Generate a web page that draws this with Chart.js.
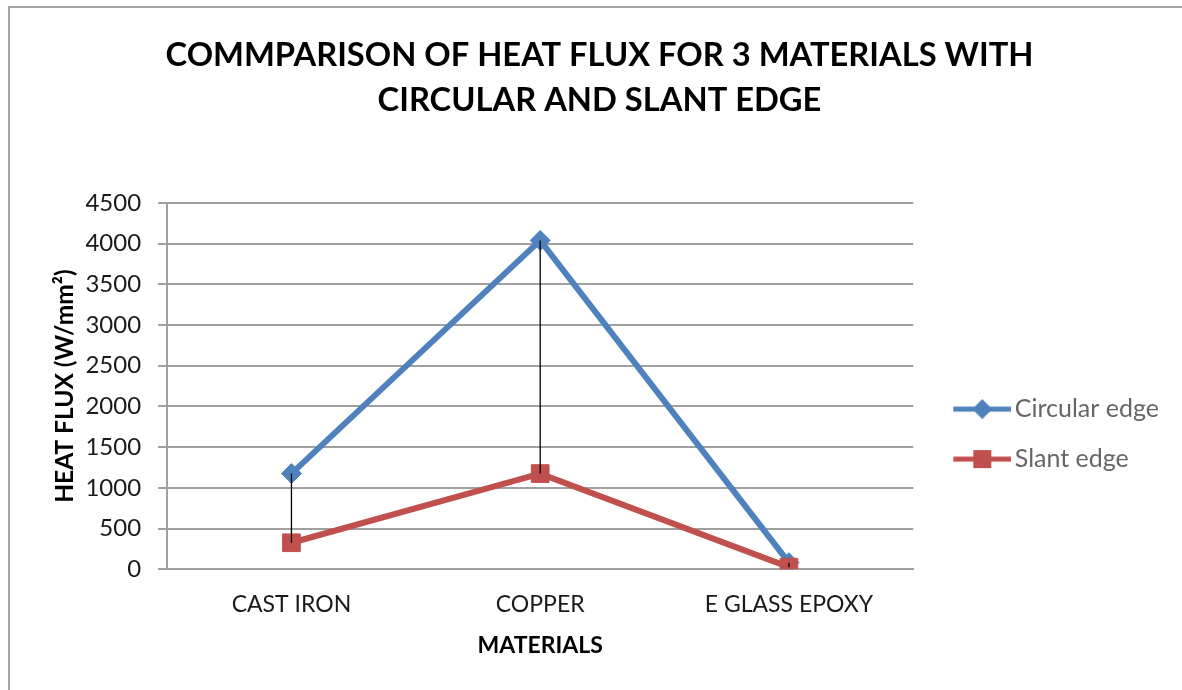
<!DOCTYPE html>
<html lang="en">
<head>
    <meta charset="UTF-8">
    <title>Heat Flux Comparison</title>
    <script src="https://cdn.jsdelivr.net/npm/chart.js"></script>
    <style>
        body { margin: 0; background: #fff; }
        #wrap { position: relative; width: 1182px; height: 690px; overflow: hidden; }
        #frame { position: absolute; left: 8px; top: 6px; width: 1200px; height: 700px;
                 border-left: 2px solid #a6a6a6; border-top: 2px solid #a6a6a6; pointer-events: none; }
    </style>
</head>
<body>
<div id="wrap">
    <canvas id="chart" width="1182" height="690"></canvas>
    <div id="frame"></div>
</div>

<script>
    // data
    const materials = ['CAST IRON', 'COPPER', 'E GLASS EPOXY'];
    const circularEdge = [1175, 4040, 80];
    const slantEdge = [325, 1175, 25];
    const seriesNames = ['Circular edge', 'Slant edge'];
    const titleLines = ['COMMPARISON OF HEAT FLUX FOR 3 MATERIALS WITH', 'CIRCULAR AND SLANT EDGE'];

    const FONT = 'Lato';
    const BLUE = '#4F81BD';
    const RED = '#C0504D';

    // legend symbol: line with the marker in the middle
    function legendIcon(color, shape) {
        const c = document.createElement('canvas');
        c.width = 82;
        c.height = 22;
        const g = c.getContext('2d');
        g.strokeStyle = color;
        g.fillStyle = color;
        g.lineWidth = 5;
        g.beginPath();
        g.moveTo(24, 11);
        g.lineTo(82, 11);
        g.stroke();
        const cx = 53, cy = 11;
        if (shape === 'diamond') {
            g.beginPath();
            g.moveTo(cx, cy - 10);
            g.lineTo(cx + 10, cy);
            g.lineTo(cx, cy + 10);
            g.lineTo(cx - 10, cy);
            g.closePath();
            g.fill();
        } else {
            g.fillRect(cx - 9, cy - 9, 18, 18);
        }
        return c;
    }

    // thin black high-low lines between the two series at each category
    const dropLines = {
        id: 'dropLines',
        afterDatasetsDraw(chart) {
            const ctx = chart.ctx;
            const x = chart.scales.x, y = chart.scales.y;
            ctx.save();
            ctx.strokeStyle = '#000';
            ctx.lineWidth = 1.3;
            materials.forEach((m, i) => {
                const px = x.getPixelForValue(i);
                ctx.beginPath();
                ctx.moveTo(px, y.getPixelForValue(circularEdge[i]));
                ctx.lineTo(px, y.getPixelForValue(slantEdge[i]));
                ctx.stroke();
            });
            ctx.restore();
        }
    };

    new Chart(document.getElementById('chart'), {
        type: 'line',
        data: {
            labels: materials,
            datasets: [{
                label: seriesNames[0],
                data: circularEdge,
                borderColor: BLUE,
                backgroundColor: BLUE,
                borderWidth: 6,
                pointStyle: 'rectRot',
                pointRadius: 10,
                pointBorderWidth: 1,
                tension: 0
            }, {
                label: seriesNames[1],
                data: slantEdge,
                borderColor: RED,
                backgroundColor: RED,
                borderWidth: 6,
                pointStyle: 'rect',
                pointRadius: 12.5,
                pointBorderWidth: 1,
                tension: 0,
                order: -1
            }]
        },
        options: {
            responsive: false,
            animation: false,
            events: [],
            layout: { padding: { left: 30, right: 13, top: 0, bottom: 31 } },
            plugins: {
                title: {
                    display: true,
                    text: titleLines,
                    color: '#000',
                    font: { family: FONT, size: 32.7, weight: 'bold', lineHeight: 1.376 },
                    padding: { top: 32.5, bottom: 80.5 }
                },
                legend: {
                    position: 'right',
                    fullSize: false,
                    title: { display: true, text: '', padding: { top: 72, bottom: 0 }, font: { size: 20 } },
                    labels: {
                        usePointStyle: true,
                        pointStyleWidth: 64,
                        padding: 25,
                        color: '#1a1a1a',
                        font: { family: FONT, size: 25 },
                        generateLabels(chart) {
                            return chart.data.datasets.map((ds, i) => ({
                                text: ds.label,
                                pointStyle: legendIcon(ds.borderColor, i === 0 ? 'diamond' : 'square'),
                                fillStyle: ds.borderColor,
                                strokeStyle: ds.borderColor,
                                lineWidth: 0,
                                datasetIndex: i
                            }));
                        }
                    }
                },
                tooltip: { enabled: false }
            },
            scales: {
                x: {
                    offset: true,
                    grid: { display: false, drawTicks: false },
                    border: { color: '#a0a0a0', width: 2 },
                    ticks: { color: '#1a1a1a', font: { family: FONT, size: 23 }, padding: 22 },
                    title: {
                        display: true,
                        text: 'MATERIALS',
                        color: '#000',
                        font: { family: FONT, size: 23, weight: 'bold' },
                        padding: { top: -9.4, bottom: 0 }
                    }
                },
                y: {
                    min: 0,
                    max: 4500,
                    ticks: {
                        stepSize: 500,
                        color: '#1a1a1a',
                        font: { family: FONT, size: 24 },
                        padding: 17,
                        callback: v => String(v)
                    },
                    grid: { color: '#a0a0a0', lineWidth: 2, tickLength: 9 },
                    border: { color: '#a0a0a0', width: 2 },
                    title: {
                        display: true,
                        text: 'HEAT FLUX (W/mm²)',
                        color: '#000',
                        font: { family: FONT, size: 24.5, weight: 'bold' },
                        padding: { top: 20, bottom: -11 }
                    }
                }
            }
        },
        plugins: [dropLines]
    });
</script>
</body>
</html>
